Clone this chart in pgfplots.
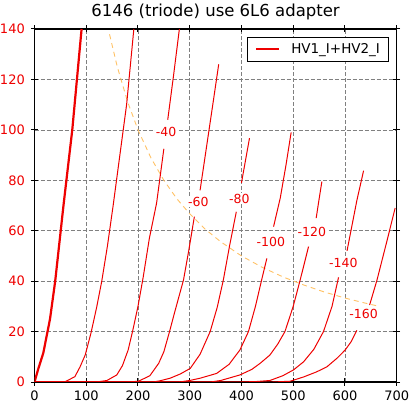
\documentclass[border=0pt]{standalone}
\usepackage{fontspec}
\setmainfont{DejaVu Sans}
\usepackage{pgfplots}
\pgfplotsset{compat=1.18}
\definecolor{dashc}{HTML}{FFC266}
\definecolor{cred}{HTML}{EE0000}
\begin{document}
\begin{tikzpicture}
\useasboundingbox (-34.5bp,-24bp) rectangle (377.5bp,382bp);
\begin{axis}[
  at={(0,0)}, anchor=south west,
  scale only axis, width=362.2bp, height=353bp,
  xmin=0, xmax=700, ymin=0, ymax=140,
  xtick={0,100,...,700}, ytick={0,20,...,140},
  grid=major,
  major grid style={gray, line width=0.7bp, dash pattern=on 4bp off 2bp},
  axis line style={line width=1.4bp},
  tick align=center, major tick length=7bp,
  every tick/.style={black, line width=1bp},
  /pgf/number format/assume math mode=true,
  /pgf/number format/1000 sep={},
  tick label style={font=\fontsize{13bp}{16bp}\selectfont},
  xticklabel style={anchor=base, inner sep=0pt, yshift=-14.5bp},
  yticklabel style={anchor=east, inner sep=0pt, xshift=-6bp, text=cred},
  title={6146 (triode) use 6L6 adapter},
  title style={at={(0.5,1)}, anchor=base, inner sep=0pt, yshift=7bp, font=\fontsize{16.5bp}{20bp}\selectfont},
  legend cell align=left,
  legend style={at={(0.9787,0.977)}, anchor=north east, draw, line width=1bp,
    inner xsep=8.5bp, inner ysep=6bp, nodes={inner sep=0pt},
    /tikz/every odd column/.style={column sep=12.7bp},
    font=\fontsize{13.5bp}{16bp}\selectfont},
  legend image code/.code={\fill[cred] (0bp,-0.5bp) rectangle (22bp,0.5bp);},
]
% dashed 20 W curve
\addplot[draw=dashc, line width=0.9bp, dash pattern=on 5bp off 4bp, forget plot] coordinates {
(145,137.9) (160,125) (180,111.1) (200,100) (225,88.9) (250,80) (275,72.7) (300,66.7)
(330,60.6) (360,55.6) (400,50) (440,45.5) (480,41.7) (520,38.5) (560,35.7) (600,33.3)
(640,31.25) (662,30.2)};
% -20
\addplot[cred, line width=1bp] coordinates {
(0,0) (59,0.1) (78,2.1) (88,6) (98,10.7) (109,19.3) (120,29.5) (130,40) (141,54) (152,70)
(165,90) (178,110) (192,140)};
\addlegendentry{HV1\_I+HV2\_I}
% thick
\addplot[draw=cred, line width=2.2bp, forget plot] coordinates {
(0,0) (7,5) (17,11.5) (30,25) (40,40) (56,70) (73,100) (91,140)};
% -40
\addplot[draw=cred, line width=1bp, forget plot] coordinates {
(0,0) (123,0.1) (140,0.6) (159,2.8) (170,6.5) (181,12.7) (190,20.5) (200,30) (210,41.5)
(222,57) (236,71) (250,92.5)};
\addplot[draw=cred, line width=1bp, forget plot] coordinates {(257.5,104) (269,122) (280,140)};
% -60
\addplot[draw=cred, line width=1bp, forget plot] coordinates {
(0,0) (180,0) (201,0.3) (223,2.5) (240,7.4) (250,12) (261,20) (270,27) (278,33) (288,40.5)
(298,52) (309,65.6)};
\addplot[draw=cred, line width=1bp, forget plot] coordinates {(320,76) (333,94) (346,112) (356,126)};
% -80
\addplot[draw=cred, line width=1bp, forget plot] coordinates {
(0,0) (230,0) (243,0.5) (262,1.5) (282,3.2) (301,5.4) (320,11) (339.5,20) (353,29.5)
(365,40.5) (377,54) (390,67.5)};
\addplot[draw=cred, line width=1bp, forget plot] coordinates {(400,79) (415.5,96.7)};
% -100
\addplot[draw=cred, line width=1bp, forget plot] coordinates {
(0,0) (280,0) (300,0.6) (320,1.5) (352,3.4) (376,7) (397,12.7) (413.5,20) (427,30)
(439,40.5) (449,49)};
\addplot[draw=cred, line width=1bp, forget plot] coordinates {(462,61.6) (475,73) (486,86) (496,99)};
% -120
\addplot[draw=cred, line width=1bp, forget plot] coordinates {
(0,0) (340,0) (360,0.6) (397,2.8) (420,5) (436,7.4) (455,10.7) (470,15) (484,20) (500,30)
(513.5,40.5) (529.6,53.7)};
\addplot[draw=cred, line width=1bp, forget plot] coordinates {(544.4,65) (550,72.5) (555.4,79.5)};
% -140
\addplot[draw=cred, line width=1bp, forget plot] coordinates {
(0,0) (400,0) (430,0.2) (455,0.6) (480,2.5) (500.6,4.8) (520,8) (540,13) (558.5,20)
(575,30) (587.6,41.5)};
\addplot[draw=cred, line width=1bp, forget plot] coordinates {(604,52) (623,72) (636,83.8)};
% -160
\addplot[draw=cred, line width=1bp, forget plot] coordinates {
(0,0) (460,0) (494,0.3) (520,2) (545,4) (565,6) (585,9.5) (600.5,12.7) (612,16) (623,20.5)};
\addplot[draw=cred, line width=1bp, forget plot] coordinates {(647.6,30.5) (662,40.5) (680,55) (697,69)};
% contour labels
\begin{scope}[every node/.style={text=cred, fill=white, inner sep=0.8bp, font=\fontsize{12.5bp}{15bp}\selectfont}]
\node at (axis cs:254.3,99.3) {-40};
\node at (axis cs:316.8,71.5) {-60};
\node at (axis cs:396,72.6) {-80};
\node at (axis cs:456.8,55.7) {-100};
\node at (axis cs:536,59.6) {-120};
\node at (axis cs:597,47.3) {-140};
\node at (axis cs:636,27) {-160};
\end{scope}
\end{axis}
\end{tikzpicture}
\end{document}
